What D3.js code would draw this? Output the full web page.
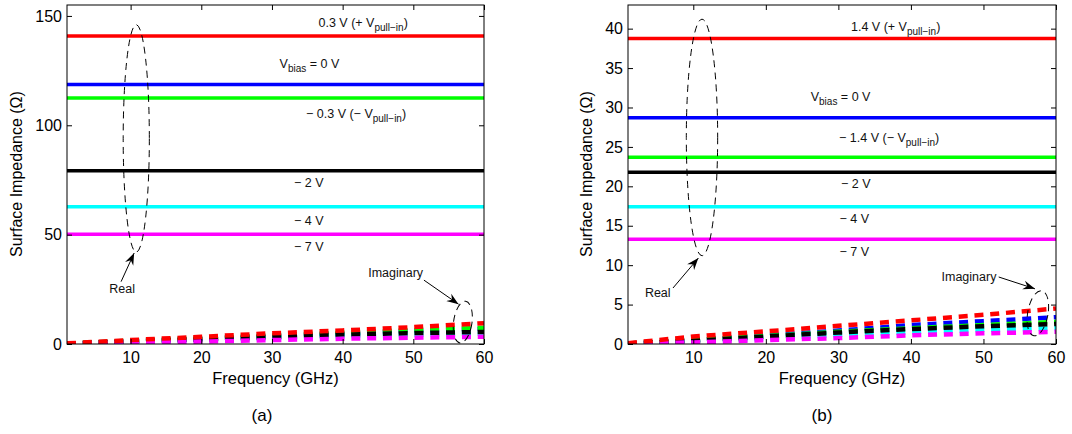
<!DOCTYPE html>
<html>
<head>
<meta charset="utf-8">
<script src="https://cdn.jsdelivr.net/npm/d3@7"></script>
<style>
  body { margin: 0; background: #fff; }
  svg { display: block; }
  text { font-family: 'Liberation Sans', Arial, Helvetica, sans-serif; }
</style>
</head>
<body>
<svg id="fig"></svg>
<script>
// frequency grid (GHz) the curves are read at
const freqs = [1, 10, 20, 30, 40, 50, 60]
const colors = ['#ff0000', '#0000ff', '#00ff00', '#000000', '#00ffff', '#ff00ff']

// (a) real part, one flat value per bias, then imaginary part per bias
const realA = [140.8, 118.6, 112.5, 79.2, 62.7, 50.2]
const imagA = [
  [0.3, 1.8, 3.3, 4.9, 6.2, 7.7, 9.5],
  [0.2, 1.3, 2.4, 3.7, 4.8, 5.9, 6.9],
  [0.2, 1.5, 2.6, 4.0, 5.2, 6.4, 7.4],
  [0.15, 1.1, 2.1, 3.2, 4.3, 5.0, 5.5],
  [0.1, 0.9, 1.8, 2.7, 3.6, 4.2, 4.7],
  [0.05, 0.6, 1.1, 1.8, 2.4, 2.9, 3.3]
]
const labelsA = ['0.3 V (+ V|pull\u2212in|)', 'V|bias| = 0 V', '\u2212 0.3 V (\u2212 V|pull\u2212in|)', '\u2212 2 V', '\u2212 4 V', '\u2212 7 V']
const yTicksA = [0, 50, 100, 150]

// (b)
const realB = [38.75, 28.7, 23.7, 21.8, 17.4, 13.3]
const imagB = [
  [0.1, 0.95, 1.6, 2.3, 3.0, 3.7, 4.5],
  [0.05, 0.5, 1.1, 1.7, 2.4, 2.9, 3.4],
  [0.05, 0.5, 1.0, 1.55, 2.0, 2.4, 2.8],
  [0.04, 0.4, 0.95, 1.45, 1.9, 2.25, 2.55],
  [0.03, 0.3, 0.7, 1.15, 1.5, 1.8, 2.0],
  [0.02, 0.2, 0.5, 0.75, 1.1, 1.35, 1.55]
]
const labelsB = ['1.4 V (+ V|pull\u2212in|)', 'V|bias| = 0 V', '\u2212 1.4 V (\u2212 V|pull\u2212in|)', '\u2212 2 V', '\u2212 4 V', '\u2212 7 V']
const yTicksB = [0, 5, 10, 15, 20, 25, 30, 35, 40]

const xTicks = [10, 20, 30, 40, 50, 60]

const svg = d3.select('#fig').attr('width', 1072).attr('height', 434)

svg.append('defs').append('marker')
  .attr('id', 'head')
  .attr('viewBox', '-12 -5 14 10')
  .attr('markerUnits', 'userSpaceOnUse')
  .attr('markerWidth', 14).attr('markerHeight', 10)
  .attr('refX', 0).attr('refY', 0)
  .attr('orient', 'auto')
  .append('path')
  .attr('d', 'M0,0 L-12,-4.5 L-8,0 L-12,4.5 Z')
  .attr('fill', '#000')

function panel (cfg) {
  const x = d3.scaleLinear().domain([1, 60]).range([cfg.left, cfg.right])
  const y = d3.scaleLinear().domain([0, cfg.yMax]).range([344, 5])
  const g = svg.append('g')

  g.append('clipPath').attr('id', 'clip' + cfg.id).append('rect')
    .attr('x', cfg.left).attr('y', 5).attr('width', cfg.right - cfg.left).attr('height', 339)

  const plot = g.append('g').attr('clip-path', `url(#clip${cfg.id})`)

  // real part, flat over frequency
  cfg.real.forEach((v, i) => {
    plot.append('line')
      .attr('x1', x(1)).attr('x2', x(60))
      .attr('y1', y(v)).attr('y2', y(v))
      .attr('stroke', colors[i]).attr('stroke-width', 3.5)
  })

  // imaginary part, dashed
  const line = d3.line().x((d, j) => x(freqs[j])).y(d => y(d))
  const order = [1, 2, 4, 3, 5, 0]
  order.forEach(i => {
    plot.append('path')
      .attr('d', line(cfg.imag[i]))
      .attr('fill', 'none')
      .attr('stroke', colors[i]).attr('stroke-width', 4.5)
      .attr('stroke-dasharray', '9,6.8')
  })

  // axes with inward ticks on all sides
  const fmt = d3.format('d')
  g.append('g').attr('transform', 'translate(0,344)')
    .call(d3.axisBottom(x).tickValues(xTicks).tickSizeInner(-5).tickSizeOuter(0).tickPadding(8).tickFormat(fmt))
  g.append('g').attr('transform', 'translate(0,5)')
    .call(d3.axisTop(x).tickValues(xTicks).tickSizeInner(-5).tickSizeOuter(0).tickFormat(''))
  g.append('g').attr('transform', `translate(${cfg.left},0)`)
    .call(d3.axisLeft(y).tickValues(cfg.yTicks).tickSizeInner(-5).tickSizeOuter(0).tickPadding(5).tickFormat(fmt))
  g.append('g').attr('transform', `translate(${cfg.right},0)`)
    .call(d3.axisRight(y).tickValues(cfg.yTicks).tickSizeInner(-5).tickSizeOuter(0).tickFormat(''))
  g.selectAll('.domain').remove()
  g.selectAll('.tick text').attr('font-size', 16).attr('fill', '#000')
    .attr('font-family', "'Liberation Sans', Arial, sans-serif")
  g.selectAll('.tick line').attr('stroke', '#000')

  g.append('rect')
    .attr('x', cfg.left).attr('y', 5)
    .attr('width', cfg.right - cfg.left).attr('height', 339)
    .attr('fill', 'none').attr('stroke', '#000').attr('stroke-width', 1)

  // axis titles
  g.append('text')
    .attr('x', (cfg.left + cfg.right) / 2).attr('y', 384)
    .attr('text-anchor', 'middle').attr('font-size', 16.5)
    .text('Frequency (GHz)')
  g.append('text')
    .attr('transform', `translate(${cfg.yTitleX},174) rotate(-90)`)
    .attr('text-anchor', 'middle').attr('font-size', 16)
    .text('Surface Impedance (\u03a9)')
  g.append('text')
    .attr('x', cfg.capX).attr('y', 421)
    .attr('text-anchor', 'middle').attr('font-size', 17)
    .attr('font-family', "'DejaVu Serif', 'Liberation Serif', serif")
    .text(cfg.caption)

  // bias labels, parts between bars are subscripts
  cfg.labels.forEach((s, i) => {
    const parts = s.split('|')
    const t = g.append('text')
      .attr('x', x(cfg.labelPos[i][0])).attr('y', y(cfg.labelPos[i][1]))
      .attr('text-anchor', 'middle').attr('font-size', 12.5).attr('fill', '#111')
    parts.forEach((p, k) => {
      const sp = t.append('tspan').text(p)
      if (k % 2 === 1) sp.attr('font-size', 10).attr('dy', 4)
      else if (k > 0) sp.attr('dy', -4)
    })
  })

  // annotations
  cfg.ellipses.forEach(e => {
    g.append('ellipse')
      .attr('cx', 0).attr('cy', 0)
      .attr('rx', x(1 + e.rf) - x(1)).attr('ry', y(0) - y(e.rv))
      .attr('transform', `translate(${x(e.f)},${y(e.v)}) rotate(${e.tilt})`)
      .attr('fill', 'none').attr('stroke', '#000').attr('stroke-width', 1)
      .attr('stroke-dasharray', '7,5')
  })
  cfg.arrows.forEach(a => {
    g.append('line')
      .attr('x1', x(a.from[0])).attr('y1', y(a.from[1]))
      .attr('x2', x(a.to[0])).attr('y2', y(a.to[1]))
      .attr('stroke', '#000').attr('stroke-width', 1)
      .attr('marker-end', 'url(#head)')
    g.append('text')
      .attr('x', x(a.text[0])).attr('y', y(a.text[1]))
      .attr('text-anchor', 'middle').attr('font-size', 12.5).attr('fill', '#111')
      .text(a.label)
  })
}

panel({
  id: 'a',
  left: 67,
  right: 484,
  yMax: 155,
  yTicks: yTicksA,
  real: realA,
  imag: imagA,
  labels: labelsA,
  labelPos: [[42.9, 144.8], [35.3, 126], [41.9, 103.2], [35.2, 71.7], [35.2, 54.4], [35.2, 42.6]],
  yTitleX: 22,
  capX: 262,
  caption: '(a)',
  ellipses: [
    { f: 10.8, v: 94, rf: 1.85, rv: 52, tilt: 0 },
    { f: 57, v: 10, rf: 1.3, rv: 9.6, tilt: 8 }
  ],
  arrows: [
    { from: [8.65, 28.5], to: [10.5, 41.6], text: [8.8, 23.4], label: 'Real' },
    { from: [51.5, 29.2], to: [56.4, 18.2], text: [47.5, 30.6], label: 'Imaginary' }
  ]
})

panel({
  id: 'b',
  left: 628,
  right: 1056,
  yMax: 43,
  yTicks: yTicksB,
  real: realB,
  imag: imagB,
  labels: labelsB,
  labelPos: [[37.9, 39.7], [30.3, 30.8], [37, 25.6], [32.4, 19.8], [32.2, 15.4], [32.2, 11.2]],
  yTitleX: 592,
  capX: 822,
  caption: '(b)',
  ellipses: [
    { f: 11.2, v: 26.2, rf: 2.16, rv: 15, tilt: 0 },
    { f: 57.5, v: 3.9, rf: 1.4, rv: 2.9, tilt: 10 }
  ],
  arrows: [
    { from: [7.2, 7.1], to: [10.7, 10.9], text: [5.1, 6.0], label: 'Real' },
    { from: [52.1, 8.5], to: [57.1, 7.0], text: [48, 8.0], label: 'Imaginary' }
  ]
})
</script>
</body>
</html>
